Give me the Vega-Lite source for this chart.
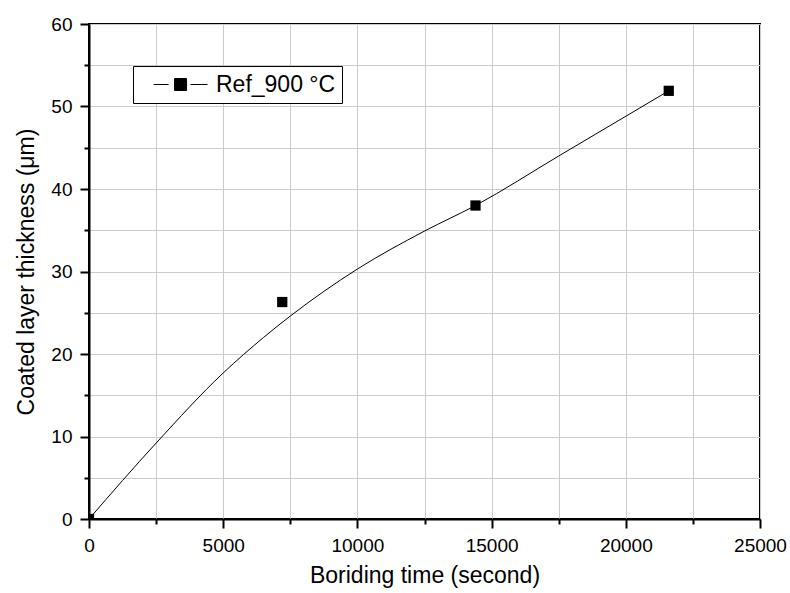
{
  "$schema": "https://vega.github.io/schema/vega-lite/v6.json",
  "width": 671,
  "height": 495,
  "autosize": {"type": "none"},
  "padding": {"left": 89, "top": 24, "right": 30, "bottom": 74},
  "background": "white",
  "config": {
    "view": {"stroke": "black", "strokeWidth": 2},
    "font": "Liberation Sans"
  },
  "datasets": {
    "curve": [
      {"time": 0, "thickness": 0},
      {"time": 2500, "thickness": 9.2},
      {"time": 5000, "thickness": 17.7},
      {"time": 6500, "thickness": 22.0},
      {"time": 7500, "thickness": 24.6},
      {"time": 10000, "thickness": 30.3},
      {"time": 12500, "thickness": 34.9},
      {"time": 14400, "thickness": 38.0},
      {"time": 17500, "thickness": 44.0},
      {"time": 21600, "thickness": 51.9}
    ],
    "points": [
      {"time": 0, "thickness": 0, "series": "Ref_900 °C"},
      {"time": 7200, "thickness": 26.3, "series": "Ref_900 °C"},
      {"time": 14400, "thickness": 38.0, "series": "Ref_900 °C"},
      {"time": 21600, "thickness": 51.9, "series": "Ref_900 °C"}
    ]
  },
  "encoding": {
    "x": {
      "field": "time",
      "type": "quantitative",
      "scale": {"domain": [0, 25000], "nice": false, "zero": false},
      "axis": {
        "title": "Boriding time (second)",
        "values": [0, 2500, 5000, 7500, 10000, 12500, 15000, 17500, 20000, 22500, 25000],
        "format": "d",
        "labelExpr": "datum.value % 5000 === 0 ? datum.label : ''",
        "grid": true,
        "gridColor": "#cccccc",
        "gridWidth": 1,
        "domainColor": "black",
        "domainWidth": 2,
        "tickColor": "black",
        "tickWidth": 2,
        "tickSize": {"condition": {"test": "datum.value % 5000 === 0", "value": 9}, "value": 5},
        "labelFontSize": 19,
        "labelColor": "black",
        "labelFont": "Liberation Sans",
        "labelPadding": 8,
        "labelFlush": false,
        "labelOverlap": false,
        "titleFont": "Liberation Sans",
        "titleFontSize": 23,
        "titleFontWeight": "normal",
        "titleColor": "black",
        "titlePadding": 9
      }
    },
    "y": {
      "field": "thickness",
      "type": "quantitative",
      "scale": {"domain": [0, 60], "nice": false},
      "axis": {
        "title": "Coated layer thickness (μm)",
        "values": [0, 5, 10, 15, 20, 25, 30, 35, 40, 45, 50, 55, 60],
        "labelExpr": "datum.value % 10 === 0 ? datum.label : ''",
        "grid": true,
        "gridColor": "#cccccc",
        "gridWidth": 1,
        "domainColor": "black",
        "domainWidth": 2,
        "tickColor": "black",
        "tickWidth": 2,
        "tickSize": {"condition": {"test": "datum.value % 10 === 0", "value": 9}, "value": 5},
        "labelFontSize": 19,
        "labelColor": "black",
        "labelFont": "Liberation Sans",
        "labelPadding": 8,
        "labelFlush": false,
        "labelOverlap": false,
        "titleFont": "Liberation Sans",
        "titleFontSize": 23,
        "titleFontWeight": "normal",
        "titleColor": "black",
        "titlePadding": 12
      }
    }
  },
  "layer": [
    {
      "data": {"name": "curve"},
      "mark": {"type": "line", "interpolate": "monotone", "color": "black", "strokeWidth": 1}
    },
    {
      "data": {"name": "points"},
      "mark": {"type": "point", "shape": "square", "filled": true, "size": 105, "opacity": 1, "clip": true},
      "encoding": {
        "color": {
          "field": "series",
          "type": "nominal",
          "scale": {"range": ["black"]},
          "legend": {
            "title": null,
            "orient": "none",
            "legendX": 44,
            "legendY": 42,
            "strokeColor": "black",
            "fillColor": "white",
            "padding": 6,
            "cornerRadius": 0,
            "symbolType": "M0.17,0H1.42M3.25,0H4.67M1.92,-0.5H2.92V0.5H1.92Z",
            "symbolSize": 576,
            "symbolStrokeWidth": 1,
            "symbolStrokeColor": "black",
            "symbolFillColor": "black",
            "symbolOpacity": 1,
            "labelFontSize": 23,
            "labelFont": "Liberation Sans",
            "labelColor": "black",
            "labelOffset": 52,
            "labelLimit": 0,
            "encode": {
              "symbols": {
                "update": {
                  "fill": {"value": "black"},
                  "stroke": {"value": "black"},
                  "strokeWidth": {"value": 1},
                  "opacity": {"value": 1}
                }
              }
            }
          }
        }
      }
    }
  ]
}
